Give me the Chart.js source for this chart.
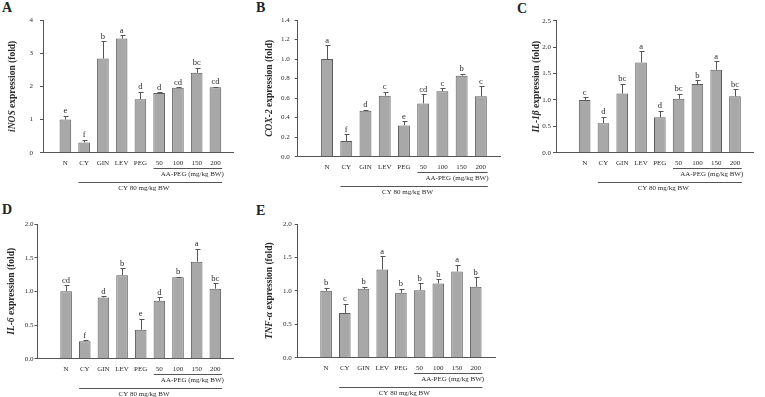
<!DOCTYPE html>
<html>
<head>
<meta charset="utf-8">
<script src="https://cdn.jsdelivr.net/npm/chart.js@4.4.0/dist/chart.umd.min.js"></script>
<style>
  body { margin: 0; background: #fff; }
  #fig { position: relative; width: 765px; height: 397px; overflow: hidden; background: #fff; }
  #fig canvas { position: absolute; }
  .tag { position: absolute; font: bold 14px "Liberation Serif", serif; color: #222; line-height: 16px; }
</style>
</head>
<body>
<div id="fig">
  <div class="tag" style="left:2px;top:0px">A</div>
  <div class="tag" style="left:256px;top:0px">B</div>
  <div class="tag" style="left:517px;top:1px">C</div>
  <div class="tag" style="left:2px;top:202px">D</div>
  <div class="tag" style="left:256px;top:203px">E</div>
  <canvas id="chartA" width="250" height="197" style="left:0px;top:0px"></canvas>
  <canvas id="chartB" width="255" height="197" style="left:252px;top:0px"></canvas>
  <canvas id="chartC" width="258" height="197" style="left:507px;top:0px"></canvas>
  <canvas id="chartD" width="250" height="197" style="left:0px;top:200px"></canvas>
  <canvas id="chartE" width="255" height="197" style="left:252px;top:200px"></canvas>
</div>
<script>
// groups on the x axis
const groups = ['N', 'CY', 'GIN', 'LEV', 'PEG', '50', '100', '150', '200'];
const aaPegGroups = ['50', '100', '150', '200'];
const cyGroups = ['CY', 'GIN', 'LEV', 'PEG', '50', '100', '150', '200'];
const aaPegLabel = 'AA-PEG (mg/kg BW)';
const cyLabel = 'CY 80 mg/kg BW';

// A - iNOS
const inosMean = [1.00, 0.31, 2.84, 3.44, 1.61, 1.80, 1.96, 2.41, 1.97];
const inosErr = [0.11, 0.08, 0.52, 0.10, 0.23, 0.02, 0.01, 0.15, 0.02];
const inosSig = ['e', 'f', 'b', 'a', 'd', 'd', 'cd', 'bc', 'cd'];
const inosTicks = [0, 1, 2, 3, 4];

// B - COX-2
const coxMean = [1.00, 0.16, 0.47, 0.625, 0.32, 0.546, 0.67, 0.83, 0.62];
const coxErr = [0.14, 0.07, 0.01, 0.04, 0.045, 0.095, 0.03, 0.02, 0.10];
const coxSig = ['a', 'f', 'd', 'c', 'e', 'cd', 'c', 'b', 'c'];
const coxTicks = [0.0, 0.2, 0.4, 0.6, 0.8, 1.0, 1.2, 1.4];

// C - IL-1b
const il1Mean = [1.00, 0.56, 1.12, 1.71, 0.67, 1.02, 1.30, 1.57, 1.07];
const il1Err = [0.05, 0.12, 0.19, 0.21, 0.12, 0.10, 0.07, 0.16, 0.13];
const il1Sig = ['c', 'd', 'bc', 'a', 'd', 'bc', 'b', 'a', 'bc'];
const il1Ticks = [0.0, 0.5, 1.0, 1.5, 2.0, 2.5];

// D - IL-6
const il6Mean = [1.00, 0.26, 0.91, 1.24, 0.43, 0.86, 1.21, 1.44, 1.04];
const il6Err = [0.09, 0.015, 0.015, 0.10, 0.16, 0.05, 0.01, 0.19, 0.08];
const il6Sig = ['cd', 'f', 'd', 'b', 'e', 'd', 'b', 'a', 'bc'];
const il6Ticks = [0.0, 0.5, 1.0, 1.5, 2.0];

// E - TNF-a
const tnfMean = [1.00, 0.67, 1.03, 1.32, 0.97, 1.01, 1.11, 1.29, 1.06];
const tnfErr = [0.05, 0.135, 0.03, 0.195, 0.06, 0.10, 0.06, 0.10, 0.14];
const tnfSig = ['b', 'c', 'b', 'a', 'b', 'b', 'b', 'a', 'b'];
const tnfTicks = [0.0, 0.5, 1.0, 1.5, 2.0];

const SERIF = '"Liberation Serif", "Times New Roman", serif';
const INK = '#2a2a2a';
const LINE = '#555';
const SMALL = 7;

function drawYTitle(ctx, parts, cx, cy) {
    ctx.save();
    ctx.translate(cx, cy);
    ctx.rotate(-Math.PI / 2);
    ctx.fillStyle = INK;
    ctx.textAlign = 'left';
    ctx.textBaseline = 'middle';
    const fonts = parts.map((p, i) => (i === 0 ? 'italic ' : '') + 'bold 9.5px ' + SERIF);
    let total = 0;
    const widths = parts.map((p, i) => {
        ctx.font = fonts[i];
        const w = ctx.measureText(p).width;
        total += w;
        return w;
    });
    let pos = -total / 2;
    parts.forEach((p, i) => {
        ctx.font = fonts[i];
        ctx.fillText(p, pos, 0);
        pos += widths[i];
    });
    ctx.restore();
}

const decorPlugin = {
    id: 'decor',
    afterDatasetsDraw(chart, args, opts) {
        const ctx = chart.ctx;
        const xs = chart.scales.x;
        const ys = chart.scales.y;
        const ds = chart.data.datasets[0];
        const meta = chart.getDatasetMeta(0);
        ctx.save();
        ctx.strokeStyle = LINE;
        ctx.lineWidth = 1;
        ctx.fillStyle = INK;
        ctx.font = '8.5px ' + SERIF;
        ctx.textAlign = 'center';
        ctx.textBaseline = 'alphabetic';
        // error bars (upper only) + significance letters
        meta.data.forEach((bar, i) => {
            const top = ys.getPixelForValue(ds.data[i].y + ds.errors[i]);
            const cx = Math.round(bar.x) + 0.5;
            const ty = Math.round(top) + 0.5;
            ctx.beginPath();
            ctx.moveTo(cx, bar.y);
            ctx.lineTo(cx, ty);
            ctx.moveTo(cx - 2, ty);
            ctx.lineTo(cx + 3, ty);
            ctx.stroke();
            ctx.fillText(ds.letters[i], bar.x, top - 2.5);
        });

        // group brackets under the axis
        const b = chart.chartArea.bottom;
        const px = v => xs.getPixelForValue(v);
        const aFirst = groups.indexOf(aaPegGroups[0]);
        const aLast = groups.indexOf(aaPegGroups[aaPegGroups.length - 1]);
        const cFirst = groups.indexOf(cyGroups[0]);
        const cLast = groups.indexOf(cyGroups[cyGroups.length - 1]);
        ctx.beginPath();
        ctx.moveTo(px(aFirst - 0.3), Math.round(b + 15) + 0.5);
        ctx.lineTo(px(aLast + 0.36), Math.round(b + 15) + 0.5);
        ctx.moveTo(px(cFirst - 0.3), Math.round(b + 29) + 0.5);
        ctx.lineTo(px(cLast + 0.36), Math.round(b + 29) + 0.5);
        ctx.stroke();
        ctx.font = SMALL + 'px ' + SERIF;
        ctx.textBaseline = 'middle';
        ctx.fillText(aaPegLabel, (px(aFirst) + px(aLast)) / 2 + 5, b + 21);
        ctx.fillText(cyLabel, (px(cFirst) + px(cLast)) / 2 - 6, b + 35);
        ctx.restore();

        drawYTitle(ctx, opts.title, opts.titleX, (chart.chartArea.top + chart.chartArea.bottom) / 2);
    }
};

function makePanel(id, mean, err, sig, ticks, title, f) {
    const canvas = document.getElementById(id);
    const decimals = ticks[1] - ticks[0] < 1 ? 1 : 0;
    return new Chart(canvas, {
        type: 'bar',
        data: {
            datasets: [{
                data: mean.map((v, i) => ({ x: i, y: v })),
                errors: err,
                letters: sig,
                backgroundColor: '#a8a8a8',
                borderColor: '#5c5c5c',
                borderWidth: 1,
                barPercentage: 0.62,
                categoryPercentage: 1.0
            }]
        },
        options: {
            responsive: false,
            animation: false,
            devicePixelRatio: 1,
            layout: {
                padding: { left: 0, top: f.top, right: canvas.width - f.right, bottom: 0 }
            },
            scales: {
                x: {
                    type: 'linear',
                    min: f.xMin,
                    max: f.xMax,
                    grid: { display: false, drawTicks: false },
                    border: { display: true, color: LINE, width: 1 },
                    ticks: {
                        stepSize: 1,
                        includeBounds: false,
                        autoSkip: false,
                        maxRotation: 0,
                        padding: 6,
                        color: INK,
                        font: { family: SERIF, size: SMALL },
                        callback: v => (Number.isInteger(v) && groups[v] !== undefined) ? groups[v] : ''
                    },
                    afterFit: s => { s.height = canvas.height - f.bottom; }
                },
                y: {
                    min: ticks[0],
                    max: ticks[ticks.length - 1],
                    grid: { display: true, drawOnChartArea: false, drawTicks: true, tickLength: 3, color: LINE },
                    border: { display: true, color: LINE, width: 1 },
                    ticks: {
                        stepSize: ticks[1] - ticks[0],
                        padding: f.tickPad,
                        color: INK,
                        font: { family: SERIF, size: SMALL },
                        callback: v => v.toFixed(decimals)
                    },
                    afterFit: s => { s.width = f.left; }
                }
            },
            plugins: {
                legend: { display: false },
                tooltip: { enabled: false },
                decor: { title: title, titleX: f.titleX }
            }
        },
        plugins: [decorPlugin]
    });
}

document.addEventListener('DOMContentLoaded', () => {
    makePanel('chartA', inosMean, inosErr, inosSig, inosTicks, ['iNOS', ' expression (fold)'],
        { left: 43, top: 20, right: 233.3, bottom: 152.7, xMin: -0.63, xMax: 8.39, tickPad: 7, titleX: 13 });
    makePanel('chartB', coxMean, coxErr, coxSig, coxTicks, ['COX-2', ' expression (fold)'],
        { left: 45.7, top: 20, right: 248, bottom: 156.7, xMin: -1.0, xMax: 8.47, tickPad: 5, titleX: 18 });
    makePanel('chartC', il1Mean, il1Err, il1Sig, il1Ticks, ['IL-1\u03b2', ' expression (fold)'],
        { left: 49, top: 20.7, right: 246.3, bottom: 152.7, xMin: -1.0, xMax: 8.45, tickPad: 2, titleX: 30 });
    makePanel('chartD', il6Mean, il6Err, il6Sig, il6Ticks, ['IL-6', ' expression (fold)'],
        { left: 37.5, top: 24, right: 233.3, bottom: 158.7, xMin: -0.95, xMax: 8.38, tickPad: 1, titleX: 12 });
    makePanel('chartE', tnfMean, tnfErr, tnfSig, tnfTicks, ['TNF-\u03b1', ' expression (fold)'],
        { left: 45.7, top: 24, right: 243.7, bottom: 157.7, xMin: -0.93, xMax: 8.48, tickPad: 3, titleX: 18 });
});
</script>
</body>
</html>
